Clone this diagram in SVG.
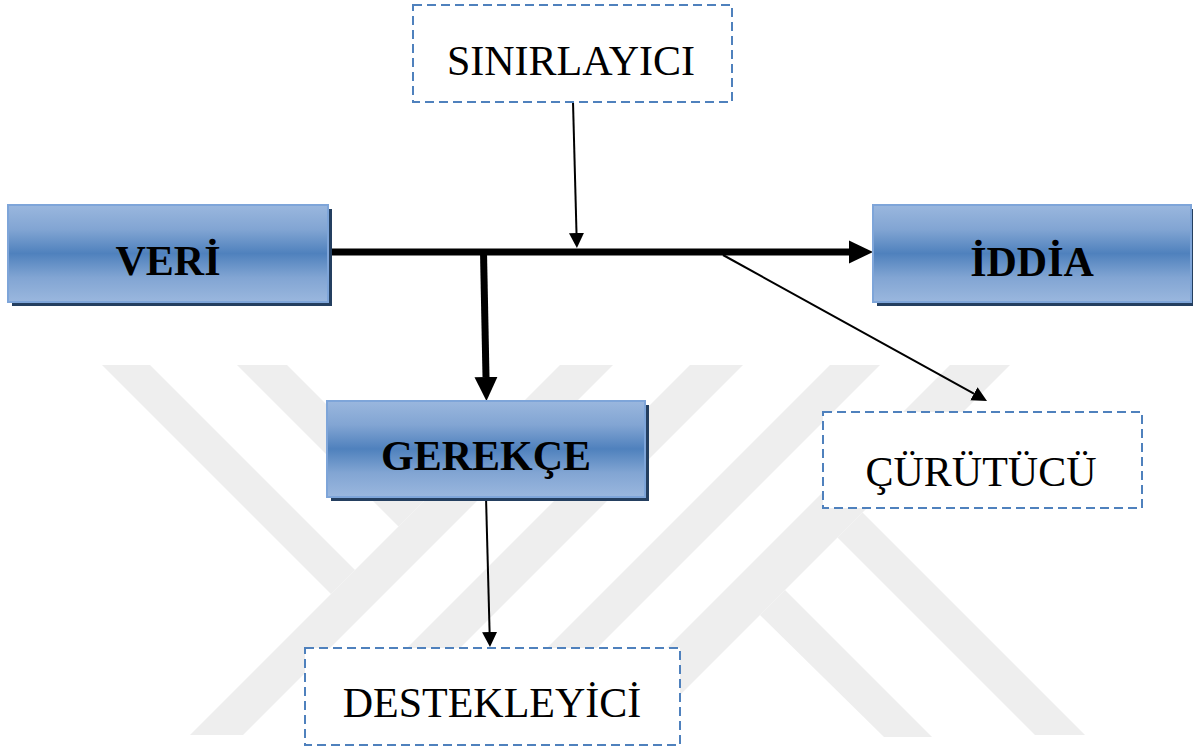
<svg xmlns="http://www.w3.org/2000/svg" width="1193" height="749" viewBox="0 0 1193 749">
  <defs>
    <linearGradient id="boxFill" x1="0" y1="0" x2="0" y2="1">
      <stop offset="0" stop-color="#9ab7de"/>
      <stop offset="0.25" stop-color="#82a5d3"/>
      <stop offset="0.5" stop-color="#4f81bd"/>
      <stop offset="0.75" stop-color="#82a5d3"/>
      <stop offset="1" stop-color="#9ab7de"/>
    </linearGradient>
    <marker id="headThick" markerUnits="userSpaceOnUse" viewBox="0 -12 24 24" markerWidth="24" markerHeight="24" refX="0" refY="0" orient="auto">
      <path d="M0,-11.5 L24,0 L0,11.5 z" fill="#000"/>
    </marker>
    <marker id="headThin" markerUnits="userSpaceOnUse" viewBox="0 -8 16 16" markerWidth="16" markerHeight="16" refX="0" refY="0" orient="auto">
      <path d="M0,-7.5 L15,0 L0,7.5 z" fill="#000"/>
    </marker>
  </defs>
  <style>
    .wm { fill: #eeeeee; }
    .shadow { fill: #243f60; }
    .solid { fill: url(#boxFill); stroke: #7ea5d9; stroke-width: 2; }
    .dash { fill: #ffffff; stroke: #4f81bd; stroke-width: 2; stroke-dasharray: 9 5; }
    .label { font-family: "Liberation Serif", "Times New Roman", serif; font-size: 42px; text-anchor: middle; fill: #000; }
    .bold { font-weight: bold; }
    .thick { stroke: #000; stroke-width: 7; fill: none; marker-end: url(#headThick); }
    .thin { stroke: #000; stroke-width: 2; fill: none; marker-end: url(#headThin); }
  </style>

  <rect width="1193" height="749" fill="#ffffff"/>

  <!-- faint background emblem made of diagonal bands -->
  <g id="emblem">
    <polygon class="wm" points="102,365 150,365 355,570 331,594"/>
    <polygon class="wm" points="237,365 287,365 423.5,501.5 398.5,526.5"/>
    <polygon class="wm" points="560,365 613,365 243,735 190,735"/>
    <polygon class="wm" points="690,365 743,365 373,735 320,735"/>
    <polygon class="wm" points="830,365 880,365 510,735 460,735"/>
    <polygon class="wm" points="950,365 1010,365 640,735 580,735"/>
    <polygon class="wm" points="760,615 785,590 932,737 884,737"/>
    <polygon class="wm" points="837.5,537.5 862.5,512.5 1085,735 1035,735"/>
  </g>

  <!-- connectors -->
  <g id="connectors">
    <path class="thick" d="M328,252 H849"/>
    <path class="thick" d="M483.5,252 L486,377"/>
    <path class="thin" d="M573,102 L576.5,233"/>
    <path class="thin" d="M723,255 L973.9,393.7"/>
    <path class="thin" d="M486,497 L489.6,632"/>
  </g>

  <g id="veri">
    <rect class="shadow" x="12" y="209" width="320" height="97"/>
    <rect class="solid" x="8" y="205" width="320" height="97"/>
    <text class="label bold" x="168" y="275">VERİ</text>
  </g>

  <g id="iddia">
    <rect class="shadow" x="877" y="209" width="318" height="97"/>
    <rect class="solid" x="873" y="205" width="318" height="97"/>
    <text class="label bold" x="1032" y="276">İDDİA</text>
  </g>

  <g id="gerekce">
    <rect class="shadow" x="331" y="405" width="318" height="96"/>
    <rect class="solid" x="327" y="401" width="318" height="96"/>
    <text class="label bold" x="486" y="470">GEREKÇE</text>
  </g>

  <g id="sinirlayici">
    <rect class="dash" x="413" y="5" width="319" height="97"/>
    <text class="label" x="571" y="75">SINIRLAYICI</text>
  </g>

  <g id="curutucu">
    <rect class="dash" x="823" y="412" width="319" height="96"/>
    <text class="label" x="981" y="486">ÇÜRÜTÜCÜ</text>
  </g>

  <g id="destekleyici">
    <rect class="dash" x="305" y="648" width="375" height="97"/>
    <text class="label" x="492" y="717">DESTEKLEYİCİ</text>
  </g>
</svg>
